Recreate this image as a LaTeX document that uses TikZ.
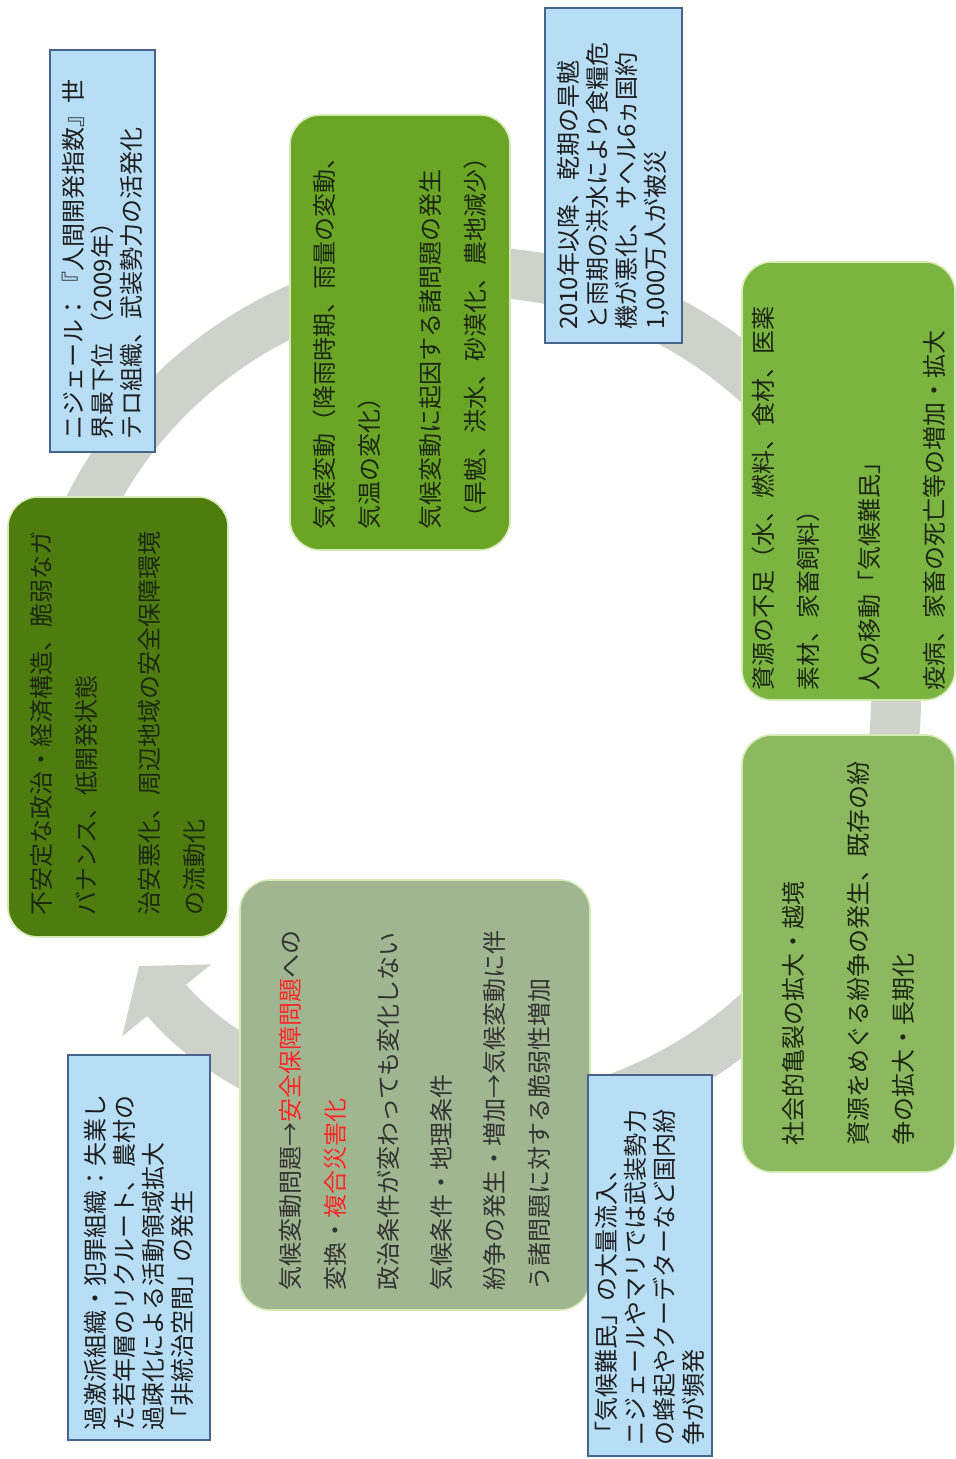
\documentclass[tikz,border=0pt]{standalone}
\usepackage{fontspec}
\setmainfont{Noto Sans CJK JP}
\usepackage{tikz}
\usetikzlibrary{arrows.meta}

\definecolor{ringgray}{RGB}{206,210,202}
\definecolor{darkgreen}{RGB}{78,124,14}
\definecolor{midgreen}{RGB}{106,165,38}
\definecolor{lightgreen}{RGB}{124,180,66}
\definecolor{palegreen}{RGB}{140,184,96}
\definecolor{sagegreen}{RGB}{160,182,144}
\definecolor{boxedge}{RGB}{214,234,180}
\definecolor{greentext}{RGB}{28,40,18}
\definecolor{sagetext}{RGB}{50,50,50}
\definecolor{bluefill}{RGB}{184,222,246}
\definecolor{blueedge}{RGB}{70,100,140}
\definecolor{bluetext}{RGB}{30,30,30}
\definecolor{alertred}{RGB}{255,40,40}

\tikzset{
	greenbox/.style={rectangle, rounded corners=15pt, draw=boxedge, line width=0.8pt, inner sep=0pt, rotate=90, align=left, text=greentext, font=\fontsize{12}{22.5}\selectfont},
	bluebox/.style={rectangle, draw=blueedge, line width=1pt, fill=bluefill, inner sep=0pt, rotate=90, align=left, text=bluetext, font=\fontsize{12}{14.5}\selectfont},
	ring/.style={draw=ringgray, line width=25pt, -{Triangle[width=56pt,length=22pt]}},
}

\begin{document}
\begin{tikzpicture}[x=0.5pt, y=0.5pt]
				\useasboundingbox (0,0) rectangle (956,-1459);
				\coordinate (hub) at (470,-698);
				\draw[ring] (hub) ++(175:213pt) arc[start angle=175, end angle=-141, radius=213pt];
				
				\node[greenbox, fill=darkgreen, minimum width=220pt, minimum height=110pt, text width=198pt] (instab) at (118,-717) {不安定な政治・経済構造、脆弱なガ\\バナンス、低開発状態\\[9pt]治安悪化、周辺地域の安全保障環境\\の流動化};
				\node[greenbox, fill=midgreen, minimum width=217.5pt, minimum height=110pt, text width=197.5pt] (climate) at (400,-332.5) {気候変動（降雨時期、雨量の変動、\\気温の変化）\\[8pt]気候変動に起因する諸問題の発生\\（旱魃、洪水、砂漠化、農地減少）};
				\node[greenbox, fill=lightgreen, minimum width=219pt, minimum height=106.5pt, text width=209pt] (scarcity) at (848.5,-481) {資源の不足（水、燃料、食材、医薬\\素材、家畜飼料）\\[8pt]人の移動「気候難民」\\[10pt]疫病、家畜の死亡等の増加・拡大};
				\node[greenbox, fill=palegreen, minimum width=218.5pt, minimum height=106.5pt, text width=192pt] (conflict) at (848.5,-953.5) {社会的亀裂の拡大・越境\\[10pt]資源をめぐる紛争の発生、既存の紛\\争の拡大・長期化};
				\node[greenbox, fill=sagegreen, text=sagetext, minimum width=215pt, minimum height=175pt, text width=195pt] (nexus) at (415,-1095) {気候変動問題→\textcolor{alertred}{安全保障問題}への\\変換・\textcolor{alertred}{複合災害化}\\[4pt]政治条件が変わっても変化しない\\[4pt]気候条件・地理条件\\[4pt]紛争の発生・増加→気候変動に伴\\う諸問題に対する脆弱性増加};
				
				\node[bluebox, minimum width=201pt, minimum height=52.5pt, text width=189pt] (niger) at (102.5,-251) {ニジェール：『人間開発指数』世\\界最下位\ （2009年）\\テロ組織、武装勢力の活発化};
				\node[bluebox, minimum width=167.5pt, minimum height=68.5pt, text width=154.5pt] (sahel) at (613.5,-175.5) {2010年以降、乾期の旱魃\\と雨期の洪水により食糧危\\機が悪化、サヘル6ヵ国約\\1,000万人が被災};
				\node[bluebox, minimum width=190.5pt, minimum height=62pt, text width=179.5pt] (refugee) at (650,-1265.5) {「気候難民」の大量流入、\\ニジェールやマリでは武装勢力\\の蜂起やクーデターなど国内紛\\争が頻発};
				\node[bluebox, minimum width=192.5pt, minimum height=71pt, text width=182.5pt] (extreme) at (139,-1247.5) {過激派組織・犯罪組織：失業し\\た若年層のリクルート、農村の\\過疎化による活動領域拡大\\「非統治空間」の発生};
			\end{tikzpicture}
\end{document}
